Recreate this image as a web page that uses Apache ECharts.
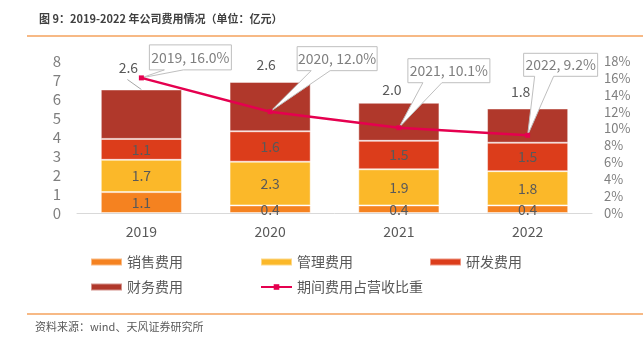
<!DOCTYPE html>
<html>
<head>
<meta charset="utf-8">
<script src="https://cdn.jsdelivr.net/npm/echarts@6/dist/echarts.min.js"></script>
<style>
  html, body { margin: 0; padding: 0; background: #fff; }
  #chart { width: 643px; height: 341px; }
</style>
</head>
<body>
<div id="chart"></div>
<script>
// Years on the category axis
const years = ['2019', '2020', '2021', '2022'];
// Expense breakdown, 亿元
const salesExp = [1.1, 0.4, 0.4, 0.4];      // 销售费用
const adminExp = [1.7, 2.3, 1.9, 1.8];      // 管理费用
const rdExp = [1.1, 1.6, 1.5, 1.5];         // 研发费用
const financeExp = [2.6, 2.6, 2.0, 1.8];    // 财务费用
// Period expenses as % of revenue
const expenseRatio = [16.0, 12.0, 10.1, 9.2];
// Axis ticks
const leftTicks = { min: 0, max: 8, interval: 1 };
const rightTicks = { min: 0, max: 18, interval: 2 };

// Placement tweaks for the top-segment labels and the callout boxes
const topLabelShift = [[-13, -15], [-4, -10], [-7, -6], [-7, -10]];
const calloutBox = [
  { dx: 49, dy: -20.5, w: 82, h: 25 },
  { dx: 67, dy: -53, w: 80, h: 24 },
  { dx: 50, dy: -57, w: 82, h: 24 },
  { dx: 33, dy: -70.5, w: 74, h: 23 }
];

const FONT = '"Noto Sans CJK SC", "Liberation Sans", sans-serif';
const chart = echarts.init(document.getElementById('chart'), null, { renderer: 'canvas' });

const innerLabel = {
  show: true,
  position: 'inside',
  color: '#595959',
  fontSize: 14,
  fontFamily: FONT,
  formatter: p => p.value.toFixed(1)
};
const segBorder = { borderColor: 'rgba(255,255,255,0.45)', borderWidth: 1 };

// One legend block per entry so the entries sit in fixed columns
const legendSpots = [
  { name: '销售费用', left: 90, top: 252, icon: 'rect' },
  { name: '管理费用', left: 260, top: 252, icon: 'rect' },
  { name: '研发费用', left: 429, top: 252, icon: 'rect' },
  { name: '财务费用', left: 90, top: 277, icon: 'rect' },
  { name: '期间费用占营收比重', left: 260, top: 277 }
];
const legends = legendSpots.map(s => ({
  data: [s.icon ? { name: s.name, icon: s.icon } : { name: s.name }],
  left: s.left,
  top: s.top,
  padding: 0,
  itemWidth: 31,
  itemHeight: 7,
  itemGap: 0,
  textStyle: { color: '#595959', fontSize: 14, lineHeight: 20, fontFamily: FONT }
}));

// stacked height of each bar, used to anchor the 2019 leader line
const barTotals = years.map((_, i) => salesExp[i] + adminExp[i] + rdExp[i] + financeExp[i]);

const option = {
  backgroundColor: '#ffffff',
  animation: false,
  textStyle: { fontFamily: FONT },
  title: {
    text: '图 9：2019-2022 年公司费用情况（单位：亿元）',
    left: 34,
    top: 8,
    textStyle: { fontSize: 11, fontWeight: 'bold', color: '#404040', fontFamily: FONT }
  },
  graphic: [
    { type: 'line', shape: { x1: 27, y1: 36, x2: 643, y2: 36 }, style: { stroke: '#f5a25d', lineWidth: 1.5 } },
    { type: 'line', shape: { x1: 27, y1: 314, x2: 643, y2: 314 }, style: { stroke: '#f5a25d', lineWidth: 1.5 } },
    {
      type: 'text', left: 35, top: 321,
      style: { text: '资料来源：wind、天风证券研究所', fill: '#595959', font: '11px ' + FONT }
    }
  ],
  legend: legends,
  grid: { left: 77, right: 51, top: 61, bottom: 128, containLabel: false },
  xAxis: {
    type: 'category',
    data: years,
    axisLine: { lineStyle: { color: '#d9d9d9', width: 1 } },
    axisTick: { show: false },
    axisLabel: { color: '#595959', fontSize: 14, margin: 12, fontFamily: FONT }
  },
  yAxis: [
    {
      type: 'value',
      min: leftTicks.min, max: leftTicks.max, interval: leftTicks.interval,
      splitLine: { show: false },
      axisLine: { show: false },
      axisTick: { show: false },
      axisLabel: { color: '#7f7f7f', fontSize: 15, margin: 16, fontFamily: FONT }
    },
    {
      type: 'value',
      min: rightTicks.min, max: rightTicks.max, interval: rightTicks.interval,
      splitLine: { show: false },
      axisLine: { show: false },
      axisTick: { show: false },
      axisLabel: { color: '#7f7f7f', fontSize: 13, margin: 12, formatter: '{value}%', fontFamily: FONT }
    }
  ],
  series: [
    {
      name: '销售费用', type: 'bar', stack: 'exp', barWidth: '63%',
      data: salesExp, itemStyle: Object.assign({ color: '#f58220' }, segBorder), label: innerLabel
    },
    {
      name: '管理费用', type: 'bar', stack: 'exp',
      data: adminExp, itemStyle: Object.assign({ color: '#fbb829' }, segBorder), label: innerLabel
    },
    {
      name: '研发费用', type: 'bar', stack: 'exp',
      data: rdExp, itemStyle: Object.assign({ color: '#dc3d1b' }, segBorder), label: innerLabel
    },
    {
      name: '财务费用', type: 'bar', stack: 'exp',
      data: financeExp,
      itemStyle: Object.assign({ color: '#b0382b' }, segBorder),
      label: Object.assign({}, innerLabel, { position: 'top', distance: 0 }),
      labelLayout: p => ({ dx: topLabelShift[p.dataIndex][0], dy: topLabelShift[p.dataIndex][1] })
    },
    {
      // short leader from the lifted 2019 label down to its bar
      name: 'leader', type: 'custom', yAxisIndex: 0, z: 6,
      data: [[0, barTotals[0]]],
      renderItem: (params, api) => {
        const pt = api.coord([api.value(0), api.value(1)]);
        return {
          type: 'line',
          shape: { x1: pt[0] - 14, y1: pt[1] - 10, x2: pt[0], y2: pt[1] },
          style: { stroke: '#a6a6a6', lineWidth: 1 }
        };
      }
    },
    {
      name: '期间费用占营收比重', type: 'line', yAxisIndex: 1,
      data: expenseRatio,
      symbol: 'rect', symbolSize: 5,
      z: 5,
      lineStyle: { color: '#e5004f', width: 2.5 },
      itemStyle: { color: '#e5004f' }
    },
    {
      // callout boxes pointing at each ratio point
      name: 'callouts', type: 'custom', yAxisIndex: 1, z: 4,
      data: expenseRatio.map((v, i) => [i, v]),
      renderItem: (params, api) => {
        const i = params.dataIndex;
        const pt = api.coord([api.value(0), api.value(1)]);
        const b = calloutBox[i];
        const cx = pt[0] + b.dx, cy = pt[1] + b.dy;
        const L = cx - b.w / 2, R = cx + b.w / 2, T = cy - b.h / 2, B = cy + b.h / 2;
        const text = years[i] + ', ' + api.value(1).toFixed(1) + '%';
        return {
          type: 'group',
          children: [
            {
              type: 'polygon',
              shape: { points: [[L, T], [R, T], [R, B], [cx - 7, B], [pt[0], pt[1]], [cx - 26, B], [L, B]] },
              style: { fill: '#ffffff', stroke: '#bfbfbf', lineWidth: 1 }
            },
            {
              type: 'text',
              style: {
                text: text, x: cx, y: cy, align: 'center', verticalAlign: 'middle',
                fill: '#7f7f7f', font: '14px ' + FONT
              }
            }
          ]
        };
      }
    }
  ]
};

chart.setOption(option);
</script>
</body>
</html>
